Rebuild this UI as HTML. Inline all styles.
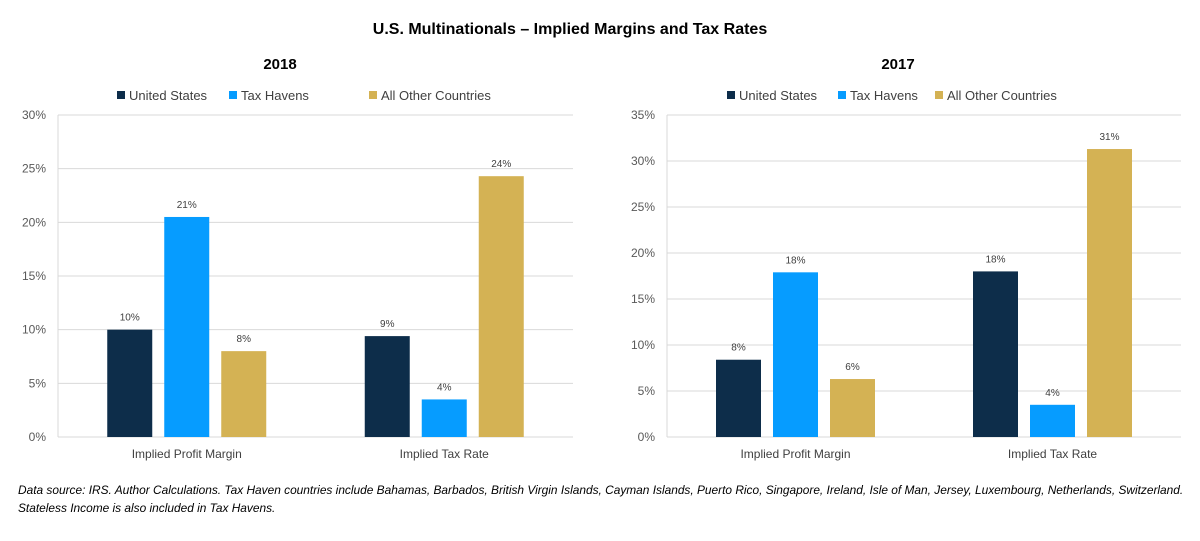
<!DOCTYPE html>
<html><head><meta charset="utf-8"><style>
body{margin:0;background:#fff;font-family:"Liberation Sans",sans-serif;}
svg text{font-family:"Liberation Sans",sans-serif;}
</style></head><body>
<svg width="1200" height="536" viewBox="0 0 1200 536">
<text x="570" y="34" text-anchor="middle" font-size="16" font-weight="bold" fill="#000">U.S. Multinationals – Implied Margins and Tax Rates</text>
<g id="c1"></g>
<g id="c2"></g>
<text x="18" y="494" font-size="11.9" font-style="italic" fill="#000">Data source: IRS. Author Calculations. Tax Haven countries include Bahamas, Barbados, British Virgin Islands, Cayman Islands, Puerto Rico, Singapore, Ireland, Isle of Man, Jersey, Luxembourg, Netherlands, Switzerland.</text>
<text x="18" y="512" font-size="11.9" font-style="italic" fill="#000">Stateless Income is also included in Tax Havens.</text>
</svg>
<script>
const categories = ["Implied Profit Margin", "Implied Tax Rate"];
const seriesNames = ["United States", "Tax Havens", "All Other Countries"];
const colors = ["#0d2d4a", "#069cff", "#d4b254"];
const us2018 = [10.0, 9.4];
const th2018 = [20.5, 3.5];
const other2018 = [8.0, 24.3];
const labels2018 = [["10%","9%"],["21%","4%"],["8%","24%"]];
const ticks2018 = [0,5,10,15,20,25,30];
const us2017 = [8.4, 18.0];
const th2017 = [17.9, 3.5];
const other2017 = [6.3, 31.3];
const labels2017 = [["8%","18%"],["18%","4%"],["6%","31%"]];
const ticks2017 = [0,5,10,15,20,25,30,35];

const NS = "http://www.w3.org/2000/svg";
function mk(parent, tag, attrs, text){
  const e = document.createElementNS(NS, tag);
  for (const k in attrs) e.setAttribute(k, attrs[k]);
  if (text !== undefined) e.textContent = text;
  parent.appendChild(e);
  return e;
}
function draw(gid, cfg){
  const g = document.getElementById(gid);
  const x0 = cfg.x0, x1 = cfg.x1, yTop = 115, yBot = 437;
  const maxV = cfg.ticks[cfg.ticks.length-1];
  const y = v => yBot - (v/maxV)*(yBot-yTop);
  const t = mk(g, "text", {x: cfg.titleX, y: 69, "text-anchor":"middle", "font-size":15, "font-weight":"bold", fill:"#000"}, cfg.title);
  
  
  cfg.legendX.forEach((lx, i) => {
    const r = mk(g, "rect", {x: lx, y: 91, width: 8, height: 8, fill: colors[i]});
    
    
    const lt = mk(g, "text", {x: lx+12, y: 100, "font-size":13, fill:"#404040"}, seriesNames[i]);
    
    
  });
  cfg.ticks.forEach(tv => {
    const yy = y(tv);
    const gl = mk(g, "line", {x1: x0, x2: x1, y1: yy, y2: yy, stroke: "#d9d9d9", "stroke-width": 1});
    
    
    const tl = mk(g, "text", {x: x0-12, y: yy+4, "text-anchor":"end", "font-size":12, fill:"#595959"}, tv + "%");
    
    
  });
  const ax = mk(g, "line", {x1: x0, x2: x0, y1: yTop, y2: yBot, stroke: "#d9d9d9", "stroke-width": 1});
  
  
  const bw = (x1-x0)/categories.length;
  const barW = 45, step = 57;
  categories.forEach((c, ci) => {
    const cx = x0 + bw*(ci+0.5);
    cfg.series.forEach((s, si) => {
      const bx = cx + (si-1)*step - barW/2;
      const b = mk(g, "rect", {x: bx, y: y(s[ci]), width: barW, height: yBot - y(s[ci]), fill: colors[si]});
      
      
      const vl = mk(g, "text", {x: bx+barW/2, y: y(s[ci])-9, "text-anchor":"middle", "font-size":10, fill:"#404040"}, cfg.labels[si][ci]);
      
      
    });
    const cl = mk(g, "text", {x: cx, y: 458, "text-anchor":"middle", "font-size":12, fill:"#404040"}, c);
    
    
  });
}
draw("c1", {x0:58, x1:573, title:"2018", titleX:280, ticks:ticks2018, series:[us2018, th2018, other2018], labels:labels2018, legendX:[117,229,369]});
draw("c2", {x0:667, x1:1181, title:"2017", titleX:898, ticks:ticks2017, series:[us2017, th2017, other2017], labels:labels2017, legendX:[727,838,935]});
</script>
</body></html>
